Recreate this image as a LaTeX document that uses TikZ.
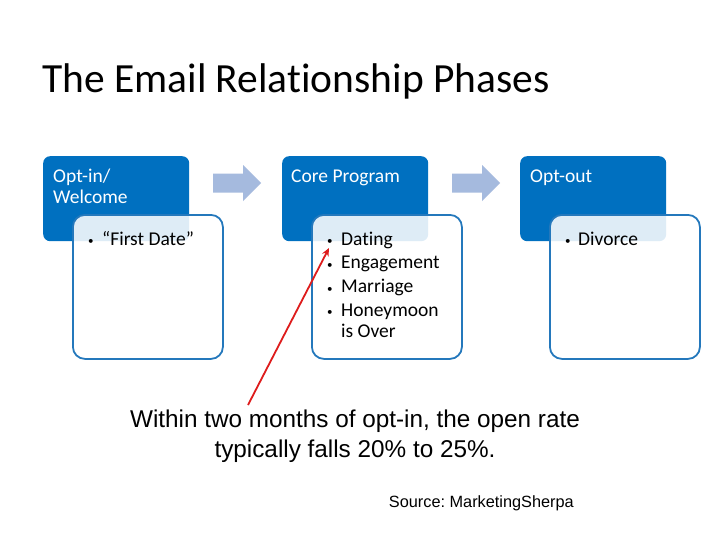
\documentclass[tikz,border=0pt]{standalone}
\usepackage{fontspec}
\usetikzlibrary{arrows.meta}
\setmainfont{Carlito}[Ligatures={NoCommon,NoRare}]
\newfontfamily\arialfont{Liberation Sans}
\frenchspacing
\definecolor{boxblue}{RGB}{0,112,192}
\definecolor{edgeblue}{RGB}{36,120,188}
\definecolor{arrowgray}{RGB}{165,186,222}
\definecolor{callred}{RGB}{222,28,28}
\tikzset{
  bluebox/.style={fill=boxblue, rounded corners=7pt, minimum width=146pt, minimum height=85pt, anchor=north west, inner sep=0pt},
  whitebox/.style={draw=edgeblue, line width=1.8pt, fill=white, fill opacity=0.87, rounded corners=12pt, minimum width=150pt, minimum height=144pt, anchor=north west, inner sep=0pt},
  head/.style={anchor=base west, inner sep=0pt, text=white, font=\fontsize{19.5}{21}\selectfont, align=left},
  item/.style={anchor=base west, inner sep=0pt, text=black, font=\fontsize{19.5}{21}\selectfont, align=left},
  dot/.style={anchor=base west, inner sep=0pt, text=black, font=\fontsize{11}{11}\selectfont},
  blockarrow/.style={fill=arrowgray},
}
\begin{document}
\frenchspacing
\begin{tikzpicture}[x=1pt,y=-1pt]
\useasboundingbox (0,0) rectangle (728,546);
\fill[white] (0,0) rectangle (728,546);
% title
\node[anchor=base west, inner sep=0pt, font=\fontsize{41.5}{46}\selectfont] (title) at (42,92) {The Email Relationship Phases};
% blue boxes
\node[bluebox] (b1) at (43,156) {};
\node[bluebox] (b2) at (282,156) {};
\node[bluebox] (b3) at (520,156) {};
\node[head] (h1) at (53,203) {Opt-in/\\[0pt]Welcome};
\node[head] (h2) at (291,182) {Core Program};
\node[head] (h3) at (530,182) {Opt-out};
% white boxes
\node[whitebox] (w1) at (72,214) {};
\node[whitebox] (w2) at (311,214) {};
\node[whitebox] (w3) at (549,214) {};
% block arrows
\fill[blockarrow] (213,173.5) -- (243,173.5) -- (243,165) -- (261,183) -- (243,201) -- (243,192.5) -- (213,192.5) -- cycle;
\fill[blockarrow] (452,173.5) -- (482,173.5) -- (482,165) -- (500,183) -- (482,201) -- (482,192.5) -- (452,192.5) -- cycle;
% items
\node[dot] (d1) at (88,244) {•};
\node[item] (t1) at (102,245) {“First Date”};
\node[dot] (d2a) at (327,244) {•};
\node[item] (t2a) at (341,245) {Dating};
\node[dot] (d2b) at (327,268) {•};
\node[item] (t2b) at (341,268.5) {Engagement};
\node[dot] (d2c) at (327,292) {•};
\node[item] (t2c) at (341,292) {Marriage};
\node[dot] (d2d) at (327,315.5) {•};
\node[item] (t2d) at (341,337) {Honeymoon\\[0pt]is Over};
\node[dot] (d3) at (565,244) {•};
\node[item] (t3) at (578,245) {Divorce};
% note
\node[anchor=base, inner sep=0pt, align=center, font=\arialfont\fontsize{24.3}{29.5}\selectfont] (note) at (355,457) {Within two months of opt-in, the open rate\\typically falls 20\% to 25\%.};
\node[anchor=base east, inner sep=0pt, font=\arialfont\fontsize{16.3}{20}\selectfont] (src) at (574,507) {Source: MarketingSherpa};
% red callout
\coordinate (rs) at (248,405);
\coordinate (re) at (329,248);
\draw[callred, line width=1.8pt, -{Stealth[length=8pt,width=7pt]}] (rs) -- (re);
\end{tikzpicture}
\end{document}
